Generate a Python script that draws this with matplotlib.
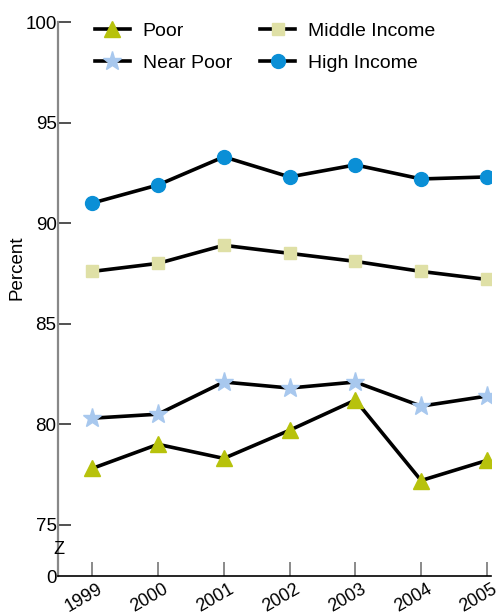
import matplotlib
matplotlib.use('Agg')
import matplotlib.pyplot as plt
import matplotlib.transforms as mtransforms

plt.rcParams['font.family'] = ['Liberation Sans', 'DejaVu Sans']

years = [1999, 2000, 2001, 2002, 2003, 2004, 2005]
poor = [77.8, 79.0, 78.3, 79.7, 81.2, 77.2, 78.2]
near_poor = [80.3, 80.5, 82.1, 81.8, 82.1, 80.9, 81.4]
middle_income = [87.6, 88.0, 88.9, 88.5, 88.1, 87.6, 87.2]
high_income = [91.0, 91.9, 93.3, 92.3, 92.9, 92.2, 92.3]

y_ticks = [75, 80, 85, 90, 95, 100]
y_bottom = 72.45

fig = plt.figure(figsize=(4.97, 6.15), dpi=100)
ax = fig.add_axes([0.1167, 0.0634, 0.871, 0.9006])

ax.plot(years, poor, color='black', lw=2.6, marker='^', ms=11,
        mfc='#b7c20c', mec='#b7c20c', label='Poor', zorder=3)
ax.plot(years, near_poor, color='black', lw=2.6, marker='*', ms=14,
        mfc='#a8c8ee', mec='#a8c8ee', label='Near Poor', zorder=3)
ax.plot(years, middle_income, color='black', lw=2.6, marker='s', ms=8.5,
        mfc='#dfe0a6', mec='#dfe0a6', label='Middle Income', zorder=3)
ax.plot(years, high_income, color='black', lw=2.6, marker='o', ms=10,
        mfc='#0a8fd6', mec='#0a8fd6', label='High Income', zorder=3)

ax.set_xlim(1998.48, 2005.06)
ax.set_ylim(y_bottom, 100)

ax.set_yticks(y_ticks + [y_bottom])
ax.set_yticklabels([str(t) for t in y_ticks] + ['0'], fontsize=13.5)
ax.tick_params(axis='y', direction='in', length=9, width=1.2, color='#333333', pad=1)
ax.get_yticklines()[-2].set_visible(False)
ax.get_yticklines()[-1].set_visible(False)

ax.set_xticks(years)
ax.set_xticklabels([str(y) for y in years], rotation=30, ha='right', va='top',
                   rotation_mode='anchor', fontsize=13)
ax.tick_params(axis='x', direction='in', length=10, width=1.2, color='#777777', pad=3)
offset = mtransforms.ScaledTranslation(0.05, 0, fig.dpi_scale_trans)
for lbl in ax.get_xticklabels():
    lbl.set_transform(lbl.get_transform() + offset)

for side in ['top', 'right']:
    ax.spines[side].set_visible(False)
ax.spines['left'].set_color('#888888')
ax.spines['left'].set_linewidth(1.6)
ax.spines['bottom'].set_color('black')
ax.spines['bottom'].set_linewidth(1.2)

# axis break mark
ax.text(1998.5, 73.75, 'Z', ha='center', va='center', fontsize=13, zorder=5)

ax.set_ylabel('Percent', fontsize=13.5)
ax.yaxis.set_label_coords(-0.076, 0.556)

ax.legend(loc='upper left', bbox_to_anchor=(0.045, 1.032), ncol=2, frameon=False,
          fontsize=14, handlelength=1.8, columnspacing=1.45,
          labelspacing=0.76, handletextpad=0.65)

plt.savefig('out.png', dpi=100)
plt.close()
